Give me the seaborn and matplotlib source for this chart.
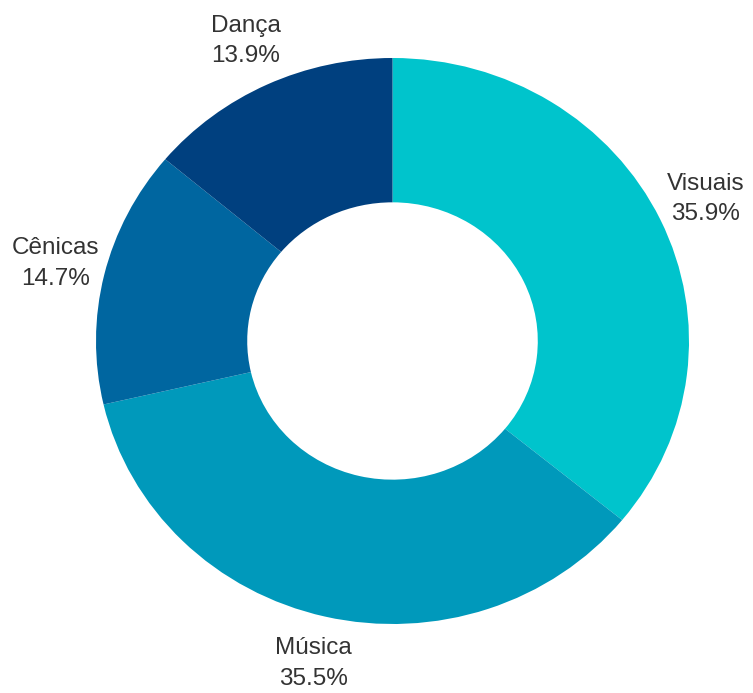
import matplotlib
matplotlib.use("Agg")
import matplotlib.pyplot as plt
import seaborn as sns

categories = ["Visuais", "Música", "Cênicas", "Dança"]
values = [35.9, 35.5, 14.7, 13.9]
colors = ["#00C4CC", "#0099BB", "#0066A0", "#00407F"]

sns.set_theme(style="white")
plt.rcParams["font.family"] = ["Liberation Sans", "DejaVu Sans"]
palette = sns.color_palette(colors)

fig = plt.figure(figsize=(7.53, 6.93), dpi=100)
W, H = 753, 693
ax = fig.add_axes([96 / W, (H - 624) / H, 593 / W, 566 / H])

labels = [f"{c}\n{v:.1f}%" for c, v in zip(categories, values)]
ax.pie(values, labels=labels, colors=palette, startangle=90, counterclock=False,
       radius=1.0, labeldistance=1.17,
       wedgeprops=dict(width=0.51, edgecolor="none", linewidth=0),
       textprops=dict(ha="center", va="center", fontsize=17.5, color="#333333",
                      linespacing=1.5))
ax.set_aspect("auto")
ax.set_xlim(-1, 1)
ax.set_ylim(-1, 1)
ax.axis("off")

fig.savefig("out.png", dpi=100)
